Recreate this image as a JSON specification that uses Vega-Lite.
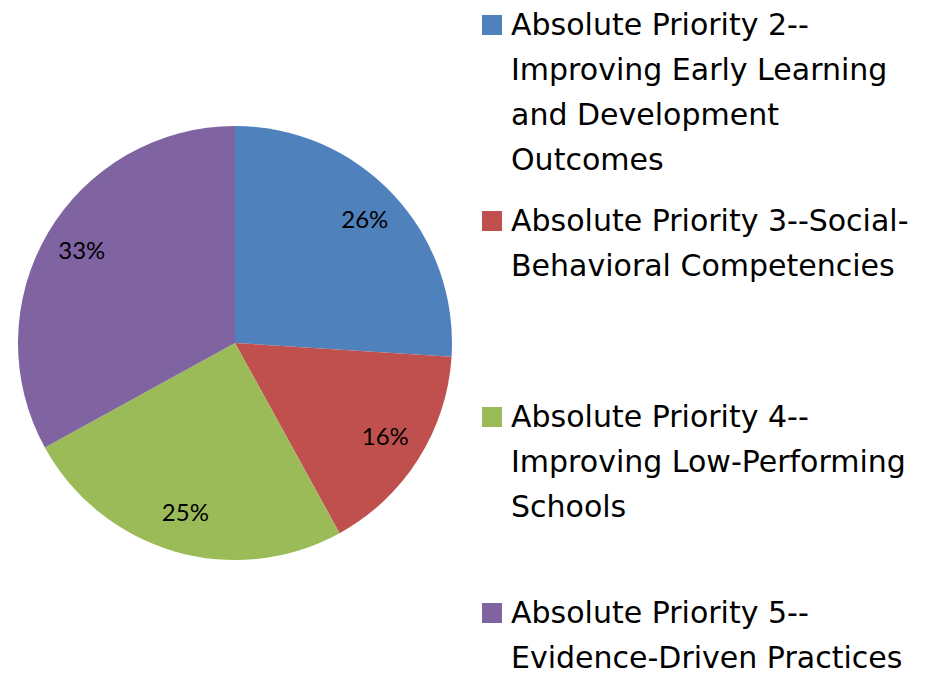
{
  "$schema": "https://vega.github.io/schema/vega-lite/v6.json",
  "width": 470,
  "height": 686,
  "padding": 0,
  "autosize": {"type": "pad"},
  "background": "white",
  "config": {"view": {"stroke": null}},
  "data": {
    "values": [
      {"category": "Absolute Priority 2--\nImproving Early Learning\nand Development\nOutcomes", "share": 0.26},
      {"category": "Absolute Priority 3--Social-\nBehavioral Competencies", "share": 0.16},
      {"category": "Absolute Priority 4--\nImproving Low-Performing\nSchools", "share": 0.25},
      {"category": "Absolute Priority 5--\nEvidence-Driven Practices", "share": 0.33}
    ]
  },
  "encoding": {
    "theta": {"field": "share", "type": "quantitative", "stack": true},
    "order": {"field": "category", "type": "ordinal", "sort": "ascending"},
    "color": {
      "field": "category",
      "type": "nominal",
      "scale": {"range": ["#4F81BD", "#C0504D", "#9BBB59", "#8064A2"]},
      "legend": {
        "orient": "none",
        "legendX": 477,
        "legendY": 10,
        "padding": 0,
        "title": null,
        "symbolType": "square",
        "symbolSize": 400,
        "symbolStrokeWidth": 0,
        "labelFont": "DejaVu Sans",
        "labelFontSize": 30,
        "labelColor": "black",
        "labelLimit": 800,
        "labelBaseline": "top",
        "labelOffset": 4,
        "rowPadding": 30,
        "labelExpr": "split(indexof(datum.label,'Social')>=0 || indexof(datum.label,'Evidence')>=0 ? datum.label + '\\n \\n ' : indexof(datum.label,'Schools')>=0 ? datum.label + '\\n ' : datum.label, '\\n')",
        "encoding": {
          "labels": {
            "lineHeight": {"value": 45},
            "dy": {"value": -14}
          }
        }
      }
    }
  },
  "layer": [
    {"mark": {"type": "arc", "outerRadius": 217}},
    {
      "mark": {"type": "text", "radius": 178, "font": "Lato", "fontSize": 24},
      "encoding": {
        "text": {"field": "share", "type": "quantitative", "format": ".0%"},
        "detail": {"field": "category", "type": "nominal"},
        "color": {"value": "black"}
      }
    }
  ]
}
